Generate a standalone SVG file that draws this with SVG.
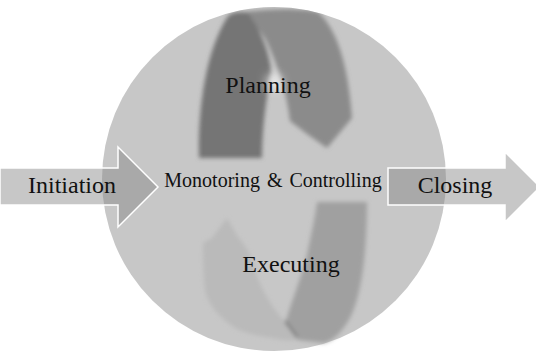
<svg xmlns="http://www.w3.org/2000/svg" width="536" height="356" viewBox="0 0 536 356">
  <style>
    .lbl { font-family: "Liberation Serif", "Times New Roman", serif; fill: #111; }
    .big { font-size: 24px; }
    .mid { font-size: 20px; }
    .block { fill: #878787; fill-opacity: 0.47; stroke: #ffffff; stroke-width: 1.5; }
  </style>
  <defs>
    <filter id="soft" x="-20%" y="-20%" width="140%" height="140%">
      <feGaussianBlur stdDeviation="2.2"/>
    </filter>
    <filter id="glow" x="-50%" y="-50%" width="200%" height="200%">
      <feGaussianBlur stdDeviation="5"/>
    </filter>
    <clipPath id="ball">
      <circle cx="274" cy="179" r="172"/>
    </clipPath>
  </defs>

  <!-- background sphere -->
  <g id="sphere">
    <circle cx="274" cy="179" r="172" fill="#c7c7c7"/>
  </g>

  <!-- planning cycle arrow (upper ribbon) -->
  <g id="planning-arrow" clip-path="url(#ball)">
    <g filter="url(#soft)">
      <path d="M 236,14 C 262,8 300,8 318,12 C 336,28 348,62 352,118 L 327,148 L 307,134 L 290,121 C 287,95 279,68 266,40 C 258,27 248,18 236,14 Z" fill="#8b8b8b"/>
      <path d="M 199,158 C 198,110 205,52 228,16 C 233,12 241,11 248,13 C 262,32 270,55 271,72 C 266,100 262,130 262,158 Z" fill="#747474"/>
    </g>
  </g>
  <ellipse cx="274" cy="82" rx="9" ry="8" fill="#ffffff" fill-opacity="0.6" filter="url(#glow)"/>

  <!-- executing cycle arrow (lower ribbon) -->
  <g id="executing-arrow" filter="url(#soft)">
    <path d="M 227,218 L 238,237 C 245,245 249,252 252,260 C 258,285 270,305 285,322 L 298,340 C 290,341 280,340 272,338 C 258,336 245,333 235,328 C 220,318 208,305 205,290 C 203,270 203,255 203,243 L 212,238 Z" fill="#bababa"/>
    <path d="M 317,202 L 367,202 C 367,250 362,295 350,318 C 343,330 335,340 324,343 L 298,340 C 294,334 289,327 286,321 C 292,300 302,275 307,255 C 311,235 315,218 317,202 Z" fill="#a0a0a0"/>
    <path d="M 285,321 L 297,337" stroke="#555" stroke-width="1.6" fill="none"/>
  </g>

  <!-- phase arrows -->
  <g id="initiation">
    <polygon class="block" points="0,168 118,168 118,147 158,187 118,227 118,205 0,205"/>
    <text class="lbl big" x="72" y="193" text-anchor="middle">Initiation</text>
  </g>
  <g id="closing">
    <polygon class="block" points="388,168 505,168 505,152 540,187 505,222 505,205 388,205"/>
    <text class="lbl big" x="455" y="193" text-anchor="middle">Closing</text>
  </g>

  <!-- phase labels inside the sphere -->
  <g id="planning">
    <text class="lbl big" x="268" y="93" text-anchor="middle">Planning</text>
  </g>
  <g id="monitoring">
    <text class="lbl mid" x="273" y="187" text-anchor="middle" word-spacing="2">Monotoring &amp; Controlling</text>
  </g>
  <g id="executing">
    <text class="lbl big" x="291" y="272" text-anchor="middle">Executing</text>
  </g>
</svg>
